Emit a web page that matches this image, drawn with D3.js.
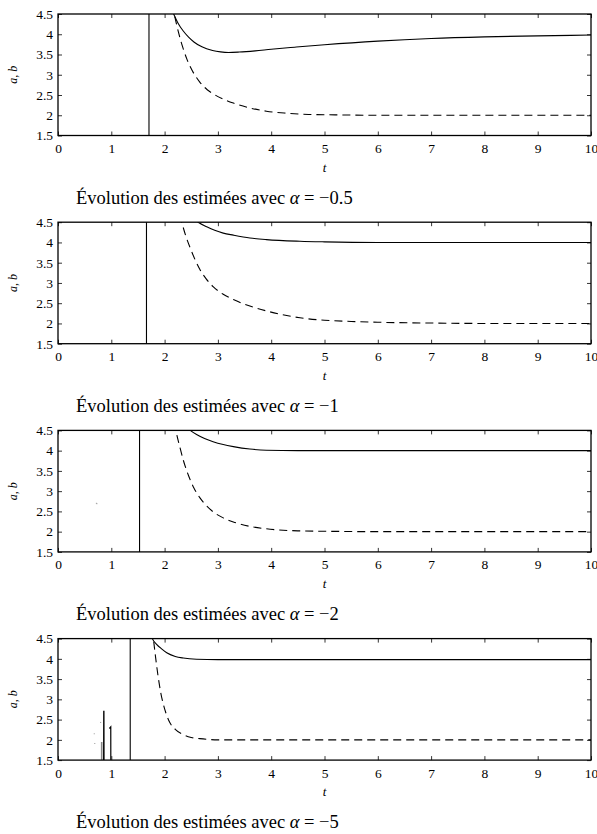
<!DOCTYPE html>
<html><head><meta charset="utf-8">
<script src="https://cdn.jsdelivr.net/npm/d3@7"></script>
<style>body{margin:0;background:#fff}svg{display:block}text{font-family:"Liberation Serif","DejaVu Serif",serif;fill:#000}</style>
</head><body><svg id="c" width="597" height="834"></svg>
<script>
// ---- data ----
const alphaLabels = ["−0.5", "−1", "−2", "−5"];
const xTicks = [0,1,2,3,4,5,6,7,8,9,10];
const yTicks = [1.5,2,2.5,3,3.5,4,4.5];
const yTickLabels = ["1.5","2","2.5","3","3.5","4","4.5"];
const singularT = [1.707, 1.66, 1.53, 1.355];

// panel 1 (alpha = -0.5)
const aT1 = [2.1,2.17,2.25,2.35,2.45,2.55,2.7,2.9,3.05,3.2,3.4,3.7,4,4.44,5,6,7,8,9,10];
const aV1 = [4.7,4.5,4.28,4.08,3.93,3.81,3.69,3.6,3.565,3.55,3.56,3.59,3.63,3.68,3.74,3.83,3.895,3.935,3.96,3.98];
const bT1 = [2.14,2.18,2.26,2.34,2.42,2.52,2.66,2.8,2.91,3.1,3.29,3.6,3.91,4.3,4.7,5.2,6,7,8,9,10];
const bV1 = [4.75,4.5,4.05,3.68,3.38,3.1,2.82,2.63,2.53,2.4,2.3,2.18,2.1,2.05,2.02,2.01,2.0,2.0,2.0,2.0,2.0];
// panel 2 (alpha = -1)
const aT2 = [2.55,2.63,2.8,2.94,3.1,3.29,3.6,3.91,4.54,5,6,7,8,10];
const aV2 = [4.58,4.5,4.38,4.3,4.23,4.18,4.11,4.07,4.03,4.015,4.0,4.0,4.0,4.0];
const bT2 = [2.28,2.32,2.4,2.5,2.58,2.66,2.78,2.91,3.1,3.29,3.6,3.91,4.54,5,5.5,6,7,8,10];
const bV2 = [4.68,4.5,4.15,3.8,3.55,3.34,3.1,2.91,2.72,2.59,2.43,2.31,2.14,2.08,2.05,2.03,2.01,2.0,2.0];
// panel 3 (alpha = -2)
const aT3 = [2.42,2.48,2.6,2.75,2.91,3.1,3.29,3.6,3.91,4.5,10];
const aV3 = [4.56,4.5,4.4,4.3,4.22,4.15,4.1,4.04,4.01,4.0,4.0];
const bT3 = [2.18,2.21,2.28,2.35,2.45,2.55,2.66,2.78,2.91,3.1,3.29,3.6,3.91,4.5,5,6,10];
const bV3 = [4.7,4.5,4.12,3.77,3.38,3.08,2.84,2.65,2.49,2.34,2.24,2.13,2.07,2.02,2.01,2.0,2.0];
const dotT3 = [0.72,0.73]; const dotV3 = [2.70,2.69];
// panel 4 (alpha = -5)
const aT4 = [1.72,1.77,1.85,1.95,2.04,2.2,2.35,2.6,3,10];
const aV4 = [4.7,4.5,4.36,4.24,4.15,4.06,4.02,3.99,3.98,3.98];
const bT4 = [1.77,1.79,1.83,1.88,1.93,1.97,2.03,2.1,2.2,2.35,2.5,2.66,3,10];
const bV4 = [4.75,4.5,4.05,3.55,3.15,2.91,2.64,2.42,2.26,2.13,2.06,2.03,2.0,2.0];
const spikeT4a = [0.858,0.86,0.862]; const spikeV4a = [1.4,2.72,1.4];
const spikeT4b = [0.964,0.99,0.991]; const spikeV4b = [2.28,2.32,1.4];
const spikeT4g = [0.82,0.82]; const spikeV4g = [1.4,1.95];
const dotsT4 = [0.68,0.69,0.80]; const dotsV4 = [2.15,1.91,2.43];

const panels = [
  {a:[aT1,aV1], b:[bT1,bV1], s:singularT[0], extra:[], dots:[]},
  {a:[aT2,aV2], b:[bT2,bV2], s:singularT[1], extra:[], dots:[]},
  {a:[aT3,aV3], b:[bT3,bV3], s:singularT[2], extra:[], dots:[[dotT3,dotV3]]},
  {a:[aT4,aV4], b:[bT4,bV4], s:singularT[3],
   extra:[[spikeT4a,spikeV4a,"#000",1.4],[spikeT4b,spikeV4b,"#000",1.2],[spikeT4g,spikeV4g,"#888",1.6]],
   dots:[[dotsT4,dotsV4]]}
];

// ---- layout ----
const svg = d3.select("#c");
const L = 58, R = 591, H = 121.5, top0 = 14, step = 208.2;
const x = d3.scaleLinear().domain([0,10]).range([L,R]);
const FONT = "'Liberation Serif','DejaVu Serif',serif";

panels.forEach((p,i)=>{
  const T = top0 + i*step;
  const y = d3.scaleLinear().domain([1.5,4.5]).range([T+H, T]);
  const g = svg.append("g");
  const cid = "clip"+i;
  svg.append("clipPath").attr("id",cid).append("rect").attr("x",L).attr("y",T).attr("width",R-L).attr("height",H);
  const plot = g.append("g").attr("clip-path",`url(#${cid})`);
  const line = d3.line().x(d=>x(d[0])).y(d=>y(d[1])).curve(d3.curveMonotoneX);
  const lin = d3.line().x(d=>x(d[0])).y(d=>y(d[1]));
  const zip = (ts,vs)=>ts.map((t,k)=>[t,vs[k]]);
  plot.append("path").attr("d", lin([[p.s,1.4],[p.s,4.6]]))
    .attr("stroke","#000").attr("stroke-width",1.1).attr("fill","none");
  plot.append("path").attr("d", line(zip(p.a[0],p.a[1])))
    .attr("stroke","#000").attr("stroke-width",1.1).attr("fill","none");
  plot.append("path").attr("d", line(zip(p.b[0],p.b[1])))
    .attr("stroke","#000").attr("stroke-width",1.1).attr("fill","none").attr("stroke-dasharray","8,5");
  p.extra.forEach(e=>{
    plot.append("path").attr("d", lin(zip(e[0],e[1]))).attr("stroke",e[2]).attr("stroke-width",e[3]).attr("fill","none");
  });
  p.dots.forEach(d=>{
    d[0].forEach((t,k)=>{
      plot.append("rect").attr("x",x(t)-0.5).attr("y",y(d[1][k])-0.5).attr("width",1).attr("height",1).attr("fill","#999");
    });
  });
  const fmtY = v=>yTickLabels[yTicks.indexOf(v)];
  const gb = g.append("g").attr("transform",`translate(0,${T+H})`)
    .call(d3.axisBottom(x).tickValues(xTicks).tickSize(-4).tickPadding(8).tickFormat(d3.format("d")));
  const gt = g.append("g").attr("transform",`translate(0,${T})`)
    .call(d3.axisTop(x).tickValues(xTicks).tickSize(-4).tickFormat(""));
  const gl = g.append("g").attr("transform",`translate(${L},0)`)
    .call(d3.axisLeft(y).tickValues(yTicks).tickSize(-4).tickPadding(5).tickFormat(fmtY));
  const gr = g.append("g").attr("transform",`translate(${R},0)`)
    .call(d3.axisRight(y).tickValues(yTicks).tickSize(-4).tickFormat(""));
  [gb,gt,gl,gr].forEach(a=>{
    a.select(".domain").remove();
    a.selectAll(".tick line").attr("stroke","#000").attr("stroke-width",0.8);
    a.selectAll("text").attr("font-family",FONT).attr("font-size",13.5).attr("fill","#000");
  });
  g.append("rect").attr("x",L).attr("y",T).attr("width",R-L).attr("height",H)
    .attr("fill","none").attr("stroke","#000").attr("stroke-width",1.3);
  g.append("text").attr("x",(L+R)/2).attr("y",T+H+36).attr("text-anchor","middle")
    .attr("font-family",FONT).attr("font-size",13).attr("font-style","italic").text("t");
  const yl = g.append("text").attr("transform",`translate(17,${T+H/2}) rotate(-90)`)
    .attr("text-anchor","middle").attr("font-family",FONT).attr("font-size",12);
  yl.append("tspan").attr("font-style","italic").text("a");
  yl.append("tspan").text(", ");
  yl.append("tspan").attr("font-style","italic").text("b");
  const cap = g.append("text").attr("x",76).attr("y",T+H+68).attr("font-family",FONT).attr("font-size",18.5);
  cap.append("tspan").text("Évolution des estimées avec ");
  cap.append("tspan").attr("font-style","italic").text("α");
  cap.append("tspan").text(" = " + alphaLabels[i]);
});
</script></body></html>
